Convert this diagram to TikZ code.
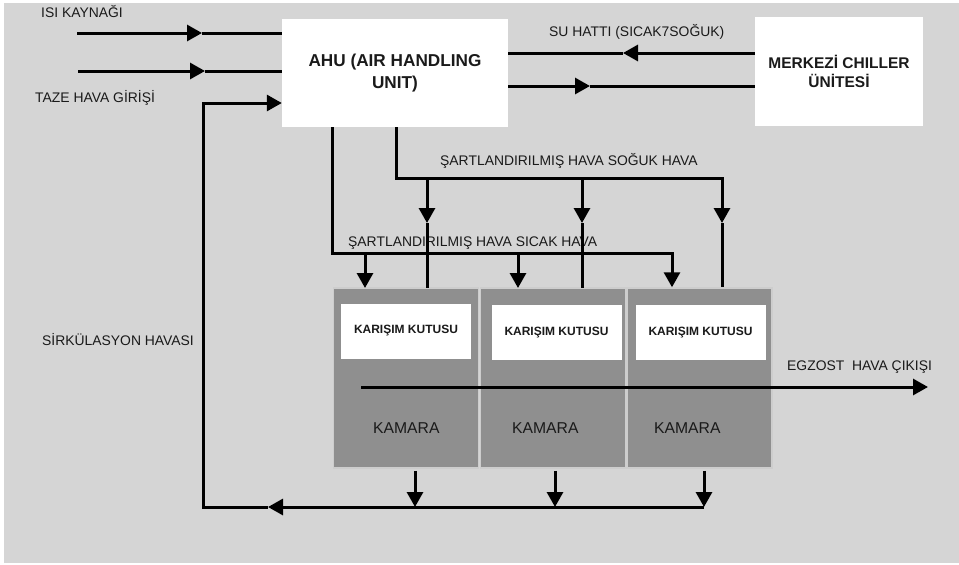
\documentclass[tikz,border=0pt]{standalone}
\usepackage{fontspec}
\setmainfont{Liberation Sans}
\usetikzlibrary{arrows.meta}
\definecolor{bg}{HTML}{D5D5D5}
\definecolor{cham}{HTML}{8F8F8F}
\definecolor{sep}{HTML}{CDCDCD}
\definecolor{txt}{HTML}{1A1A1A}
\begin{document}
\begin{tikzpicture}[x=1pt,y=-1pt,
  flow/.style={line width=3pt, line cap=butt},
  tip/.style={flow,-{Triangle[length=15pt,width=16pt]}},
  lbl/.style={anchor=base west, inner sep=0pt, text=txt, font=\fontsize{13.9}{16}\selectfont},
  box/.style={fill=white, inner sep=0pt, align=center, text=txt},
  chamber/.style={fill=cham, draw=sep, line width=1.5pt, minimum width=145pt, minimum height=180pt, inner sep=0pt},
  mix/.style={fill=white, inner sep=0pt, minimum width=130pt, minimum height=55pt, font=\bfseries\fontsize{12}{14}\selectfont, text=txt},
  kam/.style={anchor=base west, inner sep=0pt, text=txt, font=\fontsize{15.7}{18}\selectfont},
]
\fill[white] (0,0) rectangle (959,565);
\useasboundingbox (0,0) rectangle (959,565);
\fill[bg] (4,3) rectangle (959,563);

% main units
\node[box, minimum width=226pt, minimum height=108pt, font=\bfseries\fontsize{17.2}{22}\selectfont] (ahu) at (395,73) {AHU (AIR HANDLING\\UNIT)};
\node[box, minimum width=168pt, minimum height=109pt, font=\bfseries\fontsize{15.5}{18.5}\selectfont] (ch) at (839,71.5) {MERKEZİ CHILLER\\ÜNİTESİ};

% chambers
\node[chamber] (k1) at (406,378) {};
\node[chamber] (k2) at (553,378) {};
\node[chamber] (k3) at (699.5,378) {};
\node[mix] (m1) at (406,331) {KARIŞIM KUTUSU};
\node[mix] (m2) at (556.5,332.5) {KARIŞIM KUTUSU};
\node[mix] (m3) at (700.5,332.5) {KARIŞIM KUTUSU};
\node[kam] (ka1) at (373,433) {KAMARA};
\node[kam] (ka2) at (512,433) {KAMARA};
\node[kam] (ka3) at (654,433) {KAMARA};

% labels
\node[lbl] (l1) at (41,17) {ISI KAYNAĞI};
\node[lbl] (l2) at (35,102) {TAZE HAVA GİRİŞİ};
\node[lbl] (l3) at (549,36) {SU HATTI (SICAK7SOĞUK)};
\node[lbl] (l4) at (440,165) {ŞARTLANDIRILMIŞ HAVA SOĞUK HAVA};
\node[lbl] (l5) at (348,246) {ŞARTLANDIRILMIŞ HAVA SICAK HAVA};
\node[lbl] (l6) at (42,345) {SİRKÜLASYON HAVASI};
\node[lbl] (l7) at (787,370) {EGZOST\ \ HAVA ÇIKIŞI};

% inputs to AHU
\coordinate (isiS) at (77,33); \coordinate (isiM) at (202,33);
\draw[tip] (isiS) -- (isiM);
\draw[flow] (isiM) -- (isiM -| ahu.west);
\coordinate (tazS) at (78,71); \coordinate (tazM) at (205,71);
\draw[tip] (tazS) -- (tazM);
\draw[flow] (tazM) -- (tazM -| ahu.west);

% chiller water lines
\coordinate (w1) at (623,53);
\draw[tip] (w1 -| ch.west) -- (w1);
\draw[flow] (w1) -- (w1 -| ahu.east);
\coordinate (w2) at (590,86);
\draw[tip] (w2 -| ahu.east) -- (w2);
\draw[flow] (w2) -- (w2 -| ch.west);

% cold air bus
\coordinate (cold) at (396,178);
\coordinate (coldE) at (722,178);
\coordinate (coldT) at (722,223);
\draw[tip] (ahu.south -| cold) -- (cold) -- (coldE) -- (coldT);
\draw[flow] (coldT) -- (coldT |- k3.north);
\foreach \x/\k in {427/k1,582/k2}{
  \draw[tip] (\x,178) -- (\x,223);
  \draw[flow] (\x,223) -- (\x,288);
}

% warm air bus
\coordinate (warm) at (332,253);
\coordinate (warmE) at (672,253);
\draw[tip] (ahu.south -| warm) -- (warm) -- (warmE) -- (warmE |- k3.north);
\foreach \x in {365,518}{
  \draw[tip] (\x,253) -- (\x,288);
}

% exhaust
\coordinate (ex0) at (361,387); \coordinate (ex1) at (928,387);
\draw[tip] (ex0) -- (ex1);

% return / circulation
\coordinate (d1) at (415,507); \coordinate (d2) at (555,507); \coordinate (d3) at (704,507);
\draw[tip] ([yshift=-2pt]k1.south -| d1) -- (d1);
\draw[tip] ([yshift=-2pt]k2.south -| d2) -- (d2);
\draw[tip] ([yshift=-2pt]k3.south -| d3) -- (d3);
\coordinate (bM) at (268,507); \coordinate (bL) at (203,507); \coordinate (circ) at (203,103);
\draw[tip] (d3) -- (bM);
\draw[tip] (bM) -- (bL) -- (circ) -- (circ -| ahu.west);
\end{tikzpicture}
\end{document}
